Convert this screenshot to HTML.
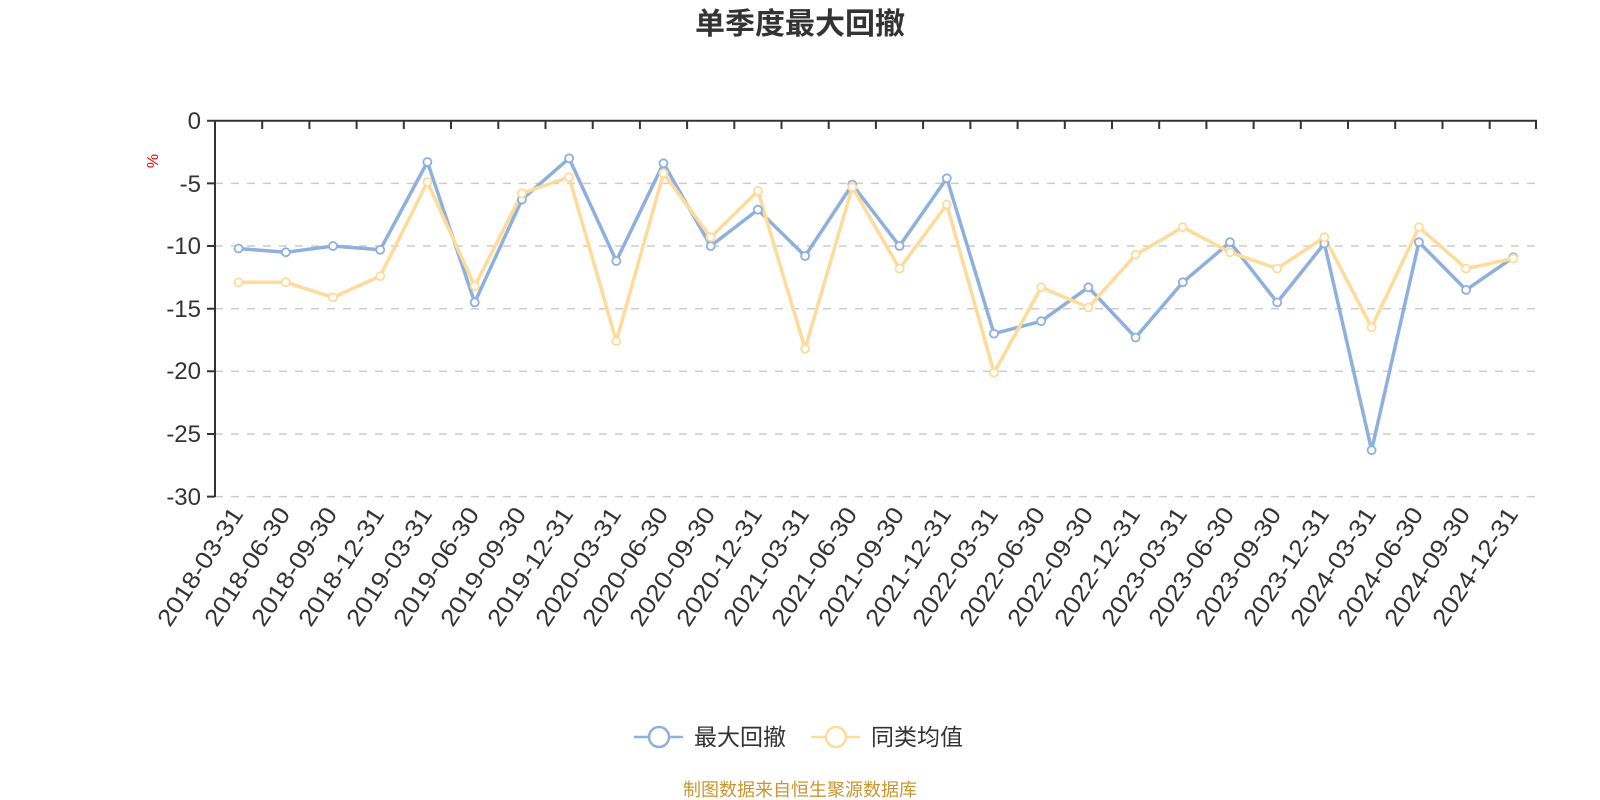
<!DOCTYPE html>
<html><head><meta charset="utf-8"><style>
html,body{margin:0;padding:0;background:#fff;}
svg{display:block;font-family:"Liberation Sans","Noto Sans CJK SC",sans-serif;}
</style></head><body>
<svg width="1600" height="800" viewBox="0 0 1600 800" xmlns="http://www.w3.org/2000/svg">
<text x="800" y="34" text-anchor="middle" font-size="30" font-weight="bold" fill="#333">单季度最大回撤</text>
<g stroke="#ccc" stroke-width="1.5" stroke-dasharray="8,8">
<line x1="215" y1="183.4" x2="1537" y2="183.4"/>
<line x1="215" y1="246" x2="1537" y2="246"/>
<line x1="215" y1="308.7" x2="1537" y2="308.7"/>
<line x1="215" y1="371.3" x2="1537" y2="371.3"/>
<line x1="215" y1="434" x2="1537" y2="434"/>
<line x1="215" y1="496.6" x2="1537" y2="496.6"/>
</g>
<g stroke="#333" stroke-width="2" fill="none">
<line x1="215" y1="120.7" x2="1537" y2="120.7"/>
<line x1="215" y1="120" x2="215" y2="497"/>
<path d="M207 120.7H215M207 183.4H215M207 246H215M207 308.7H215M207 371.3H215M207 434H215M207 496.6H215"/>
<path d="M262.2 121v8M309.4 121v8M356.6 121v8M403.8 121v8M451 121v8M498.3 121v8M545.5 121v8M592.7 121v8M639.9 121v8M687.1 121v8M734.3 121v8M781.5 121v8M828.7 121v8M875.9 121v8M923.1 121v8M970.4 121v8M1017.6 121v8M1064.8 121v8M1112 121v8M1159.2 121v8M1206.4 121v8M1253.6 121v8M1300.8 121v8M1348 121v8M1395.2 121v8M1442.5 121v8M1489.7 121v8M1536 120v9"/>
</g>
<g font-size="24" fill="#333" text-anchor="end">
<text x="201" y="129">0</text>
<text x="201" y="192">-5</text>
<text x="201" y="254">-10</text>
<text x="201" y="317">-15</text>
<text x="201" y="379">-20</text>
<text x="201" y="442">-25</text>
<text x="201" y="505">-30</text>
</g>
<text transform="translate(158,161) rotate(-90)" text-anchor="middle" font-size="16" fill="#e00">%</text>
<g font-size="24" fill="#333" text-anchor="end">
<text transform="translate(244,514) rotate(-57)" textLength="136" lengthAdjust="spacingAndGlyphs">2018-03-31</text>
<text transform="translate(291,514) rotate(-57)" textLength="136" lengthAdjust="spacingAndGlyphs">2018-06-30</text>
<text transform="translate(338,514) rotate(-57)" textLength="136" lengthAdjust="spacingAndGlyphs">2018-09-30</text>
<text transform="translate(385,514) rotate(-57)" textLength="136" lengthAdjust="spacingAndGlyphs">2018-12-31</text>
<text transform="translate(433,514) rotate(-57)" textLength="136" lengthAdjust="spacingAndGlyphs">2019-03-31</text>
<text transform="translate(480,514) rotate(-57)" textLength="136" lengthAdjust="spacingAndGlyphs">2019-06-30</text>
<text transform="translate(527,514) rotate(-57)" textLength="136" lengthAdjust="spacingAndGlyphs">2019-09-30</text>
<text transform="translate(574,514) rotate(-57)" textLength="136" lengthAdjust="spacingAndGlyphs">2019-12-31</text>
<text transform="translate(622,514) rotate(-57)" textLength="136" lengthAdjust="spacingAndGlyphs">2020-03-31</text>
<text transform="translate(669,514) rotate(-57)" textLength="136" lengthAdjust="spacingAndGlyphs">2020-06-30</text>
<text transform="translate(716,514) rotate(-57)" textLength="136" lengthAdjust="spacingAndGlyphs">2020-09-30</text>
<text transform="translate(763,514) rotate(-57)" textLength="136" lengthAdjust="spacingAndGlyphs">2020-12-31</text>
<text transform="translate(810,514) rotate(-57)" textLength="136" lengthAdjust="spacingAndGlyphs">2021-03-31</text>
<text transform="translate(858,514) rotate(-57)" textLength="136" lengthAdjust="spacingAndGlyphs">2021-06-30</text>
<text transform="translate(905,514) rotate(-57)" textLength="136" lengthAdjust="spacingAndGlyphs">2021-09-30</text>
<text transform="translate(952,514) rotate(-57)" textLength="136" lengthAdjust="spacingAndGlyphs">2021-12-31</text>
<text transform="translate(999,514) rotate(-57)" textLength="136" lengthAdjust="spacingAndGlyphs">2022-03-31</text>
<text transform="translate(1046,514) rotate(-57)" textLength="136" lengthAdjust="spacingAndGlyphs">2022-06-30</text>
<text transform="translate(1094,514) rotate(-57)" textLength="136" lengthAdjust="spacingAndGlyphs">2022-09-30</text>
<text transform="translate(1141,514) rotate(-57)" textLength="136" lengthAdjust="spacingAndGlyphs">2022-12-31</text>
<text transform="translate(1188,514) rotate(-57)" textLength="136" lengthAdjust="spacingAndGlyphs">2023-03-31</text>
<text transform="translate(1235,514) rotate(-57)" textLength="136" lengthAdjust="spacingAndGlyphs">2023-06-30</text>
<text transform="translate(1282,514) rotate(-57)" textLength="136" lengthAdjust="spacingAndGlyphs">2023-09-30</text>
<text transform="translate(1330,514) rotate(-57)" textLength="136" lengthAdjust="spacingAndGlyphs">2023-12-31</text>
<text transform="translate(1377,514) rotate(-57)" textLength="136" lengthAdjust="spacingAndGlyphs">2024-03-31</text>
<text transform="translate(1424,514) rotate(-57)" textLength="136" lengthAdjust="spacingAndGlyphs">2024-06-30</text>
<text transform="translate(1471,514) rotate(-57)" textLength="136" lengthAdjust="spacingAndGlyphs">2024-09-30</text>
<text transform="translate(1519,514) rotate(-57)" textLength="136" lengthAdjust="spacingAndGlyphs">2024-12-31</text>
</g>
<g fill="none" stroke-width="3.5" stroke-linejoin="round">
<polyline stroke="#8eb0dc" points="238.6,248.5 285.8,252.3 333,246 380.2,249.8 427.4,162 474.7,302.4 521.9,199.6 569.1,158.3 616.3,261 663.5,163.3 710.7,246 757.9,209.7 805.1,256 852.3,184.6 899.5,246 946.8,178.3 994,333.7 1041.2,321.2 1088.4,287.3 1135.6,337.5 1182.8,282.3 1230,242.2 1277.2,302.4 1324.4,243.5 1371.6,450.2 1418.9,242.2 1466.1,289.9 1513.3,257.3"/>
<polyline stroke="#ffdb9a" points="238.6,282.3 285.8,282.3 333,297.4 380.2,276.1 427.4,182.1 474.7,286.1 521.9,193.4 569.1,177.1 616.3,341.2 663.5,173.3 710.7,237.2 757.9,190.9 805.1,348.8 852.3,187.1 899.5,268.6 946.8,204.6 994,372.6 1041.2,287.3 1088.4,307.4 1135.6,254.8 1182.8,227.2 1230,252.3 1277.2,268.6 1324.4,237.2 1371.6,327.4 1418.9,227.2 1466.1,268.6 1513.3,258.5"/>
</g>
<g fill="#fff" stroke="#8eb0dc" stroke-width="1.8">
<circle cx="238.6" cy="248.5" r="4"/><circle cx="285.8" cy="252.3" r="4"/><circle cx="333" cy="246" r="4"/><circle cx="380.2" cy="249.8" r="4"/><circle cx="427.4" cy="162" r="4"/><circle cx="474.7" cy="302.4" r="4"/><circle cx="521.9" cy="199.6" r="4"/><circle cx="569.1" cy="158.3" r="4"/><circle cx="616.3" cy="261" r="4"/><circle cx="663.5" cy="163.3" r="4"/><circle cx="710.7" cy="246" r="4"/><circle cx="757.9" cy="209.7" r="4"/><circle cx="805.1" cy="256" r="4"/><circle cx="852.3" cy="184.6" r="4"/><circle cx="899.5" cy="246" r="4"/><circle cx="946.8" cy="178.3" r="4"/><circle cx="994" cy="333.7" r="4"/><circle cx="1041.2" cy="321.2" r="4"/><circle cx="1088.4" cy="287.3" r="4"/><circle cx="1135.6" cy="337.5" r="4"/><circle cx="1182.8" cy="282.3" r="4"/><circle cx="1230" cy="242.2" r="4"/><circle cx="1277.2" cy="302.4" r="4"/><circle cx="1324.4" cy="243.5" r="4"/><circle cx="1371.6" cy="450.2" r="4"/><circle cx="1418.9" cy="242.2" r="4"/><circle cx="1466.1" cy="289.9" r="4"/><circle cx="1513.3" cy="257.3" r="4"/>
</g>
<g fill="#fff" stroke="#ffdb9a" stroke-width="1.8">
<circle cx="238.6" cy="282.3" r="4"/><circle cx="285.8" cy="282.3" r="4"/><circle cx="333" cy="297.4" r="4"/><circle cx="380.2" cy="276.1" r="4"/><circle cx="427.4" cy="182.1" r="4"/><circle cx="474.7" cy="286.1" r="4"/><circle cx="521.9" cy="193.4" r="4"/><circle cx="569.1" cy="177.1" r="4"/><circle cx="616.3" cy="341.2" r="4"/><circle cx="663.5" cy="173.3" r="4"/><circle cx="710.7" cy="237.2" r="4"/><circle cx="757.9" cy="190.9" r="4"/><circle cx="805.1" cy="348.8" r="4"/><circle cx="852.3" cy="187.1" r="4"/><circle cx="899.5" cy="268.6" r="4"/><circle cx="946.8" cy="204.6" r="4"/><circle cx="994" cy="372.6" r="4"/><circle cx="1041.2" cy="287.3" r="4"/><circle cx="1088.4" cy="307.4" r="4"/><circle cx="1135.6" cy="254.8" r="4"/><circle cx="1182.8" cy="227.2" r="4"/><circle cx="1230" cy="252.3" r="4"/><circle cx="1277.2" cy="268.6" r="4"/><circle cx="1324.4" cy="237.2" r="4"/><circle cx="1371.6" cy="327.4" r="4"/><circle cx="1418.9" cy="227.2" r="4"/><circle cx="1466.1" cy="268.6" r="4"/><circle cx="1513.3" cy="258.5" r="4"/>
</g>
<g stroke-width="2.5" fill="#fff">
<line x1="634" y1="737" x2="683" y2="737" stroke="#8eb0dc"/>
<circle cx="659" cy="737" r="10" stroke="#8eb0dc"/>
<line x1="811" y1="737" x2="860" y2="737" stroke="#ffdb9a"/>
<circle cx="836" cy="737" r="10" stroke="#ffdb9a"/>
</g>
<g font-size="23" fill="#333">
<text x="694" y="745">最大回撤</text>
<text x="871" y="745">同类均值</text>
</g>
<text x="800" y="796" text-anchor="middle" font-size="18" fill="#c9962e">制图数据来自恒生聚源数据库</text>
</svg>
</body></html>
